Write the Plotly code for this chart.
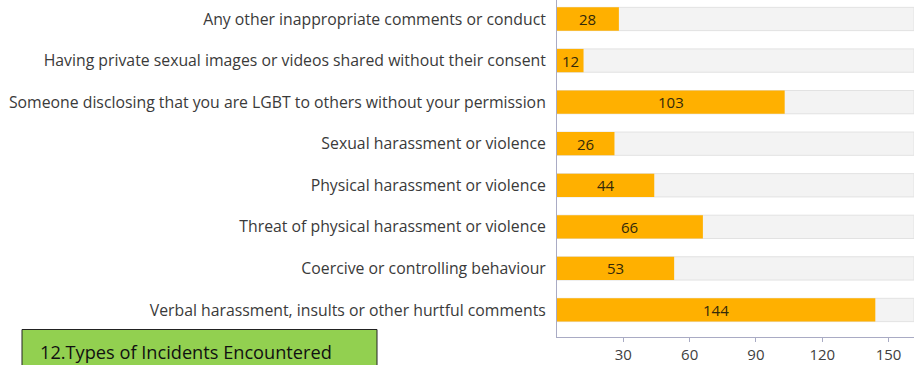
import plotly.graph_objects as go

# Incident types, listed top to bottom as they appear on the chart
categories = [
    "Any other inappropriate comments or conduct",
    "Having private sexual images or videos shared without their consent",
    "Someone disclosing that you are LGBT to others without your permission",
    "Sexual harassment or violence",
    "Physical harassment or violence",
    "Threat of physical harassment or violence",
    "Coercive or controlling behaviour",
    "Verbal harassment, insults or other hurtful comments",
]
counts = [28, 12, 103, 26, 44, 66, 53, 144]
x_ticks = [30, 60, 90, 120, 150]
x_max = 161.5
title_text = "12.Types of Incidents Encountered"

FONT = "Open Sans, sans-serif"
BAR = "#FFB000"

fig = go.Figure()

# light grey track behind every bar
fig.add_trace(go.Bar(
    y=categories, x=[x_max] * len(categories), orientation="h",
    marker=dict(color="#F3F3F3", line=dict(color="#E2E2E2", width=1)),
    width=0.56, hoverinfo="skip", showlegend=False,
))

fig.add_trace(go.Bar(
    y=categories, x=counts, orientation="h",
    marker=dict(color=BAR, line=dict(width=0)),
    width=0.56, showlegend=False,
))

# count labels centred on each bar
for cat, v in zip(categories, counts):
    fig.add_annotation(
        x=v / 2, y=cat, text=str(v), showarrow=False,
        xanchor="center", yanchor="middle",
        font=dict(family=FONT, size=15, color="#33290A"),
    )

fig.update_layout(
    width=914, height=365,
    margin=dict(l=557, r=0, t=0, b=28),
    paper_bgcolor="white", plot_bgcolor="white",
    barmode="overlay",
    font=dict(family=FONT, color="#404040"),
    xaxis=dict(
        range=[0, x_max], tickvals=x_ticks, ticktext=[str(t) for t in x_ticks],
        showgrid=False, zeroline=False, showline=True, linecolor="#A9ABC4",
        linewidth=1, ticks="outside", ticklen=4, tickcolor="#A9ABC4",
        tickfont=dict(family=FONT, size=15, color="#404040"),
    ),
    yaxis=dict(
        categoryorder="array", categoryarray=categories,
        range=[7.65, -0.457], showgrid=False, zeroline=False,
        showline=True, linecolor="#A9ABC4", linewidth=1,
        ticks="", ticklabelstandoff=7,
        tickfont=dict(family=FONT, size=15.8, color="#3A3A3A"),
    ),
)

# green caption box at the lower left
fig.add_shape(
    type="rect", xref="paper", yref="paper",
    x0=(22 - 557) / 357, x1=(377 - 557) / 357,
    y0=(337 - 372) / 337, y1=(337 - 329.5) / 337,
    fillcolor="#92D050", line=dict(color="#222222", width=1), layer="above",
)
fig.add_annotation(
    xref="paper", yref="paper",
    x=(38 - 557) / 357, y=(337 - 351.5) / 337,
    xanchor="left", yanchor="middle", showarrow=False,
    text=title_text, font=dict(family=FONT, size=18.2, color="#111111"),
)

fig.write_html("out.html")
